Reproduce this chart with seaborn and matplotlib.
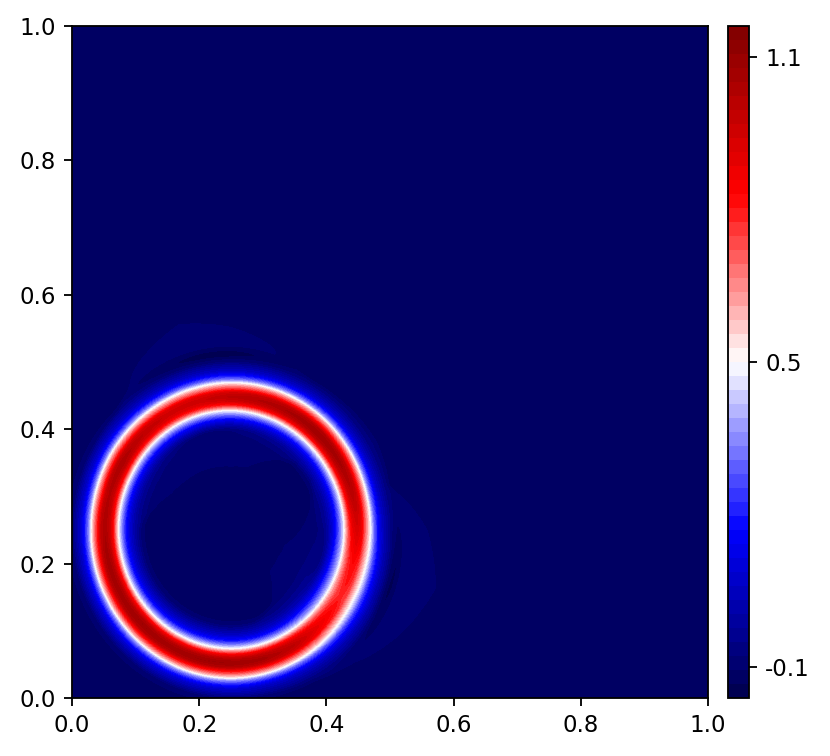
"""
Level-set style field: a thin ring around (0.25, 0.25) on the unit square,
filled contours with a seismic colorbar. All profiles read off the picture.
"""
import matplotlib
matplotlib.use("Agg")
import matplotlib.pyplot as plt
import numpy as np
import seaborn as sns

sns.set_style("ticks", {"axes.edgecolor": "black", "text.color": "black",
                        "xtick.color": "black", "ytick.color": "black",
                        "axes.grid": False})
plt.rcParams["font.family"] = ["DejaVu Sans"]
plt.rcParams["axes.unicode_minus"] = False

DPI = 165
CENTER = (0.25, 0.25)
RING_R0 = 0.198
BACKGROUND = -0.12

# radial cross-section of the ring, fraction of crest height above background
RING_R = [0, .13, .14, .15, .158, .166, .172, .178, .182, .186, .192, .198, .204,
          .2086, .214, .219, .2235, .2295, .236, .243, .25, .258, 1.5]
RING_V = [0, 0, .02, .07, .14, .248, .38, .53, .67, .81, .95, 1, .95,
          .81, .67, .53, .38, .248, .14, .08, .03, .01, 0]

# per-azimuth readings, every 15 degrees from the +x axis, counter-clockwise
THETA = list(range(0, 360, 15))
CREST = [.9, .98, 1.03, 1.05, 1.03, 1.0, .97, .93, .93, .97, 1.02, 1.0,
         1.02, 1.04, 1.04, 1.05, 1.04, 1.05, 1.05, 1.03, .97, .85, .76, .8]
SPREAD = [1.05, 1, 1, 1, 1, 1, 1, 1, 1, 1, 1, 1,
          1, 1, 1, 1, 1, 1, 1, 1, 1.05, 1.15, 1.22, 1.15]
HALO_IN = [.105, .125, .142, .138, .115, .092, .09, .092, .095, .098, .104, .12,
           .14, .14, .141, .142, .141, .141, .142, .14, .123, .082, .08, .083]
HALO_OUT = [.31, .26, .265, .262, .26, .28, .303, .318, .29, .255, .25, .25,
            .25, .25, .25, .25, .25, .25, .25, .255, .262, .28, .31, .335]
HALO_RISE = 0.03

# undershoot patches next to the ring
DIP_THETA = [95, 105, -18, -20]
DIP_SPREAD = [30, 35, 20, 22]
DIP_R = [.262, .15, .148, .262]
DIP_WIDTH = [.012, .01, .01, .012]
DIP_DEPTH = [-.065, -.065, -.065, -.065]

LEVELS = np.linspace(-0.16, 1.16, 49)
CBAR_TICKS = [-0.1, 0.5, 1.1]
AXIS_TICKS = [0.0, 0.2, 0.4, 0.6, 0.8, 1.0]


def build_field():
    xs = np.linspace(0, 1, 800)
    X, Y = np.meshgrid(xs, xs)
    r = np.hypot(X - CENTER[0], Y - CENTER[1])
    th = np.degrees(np.arctan2(Y - CENTER[1], X - CENTER[0])) % 360

    crest = np.interp(th, THETA, CREST, period=360)
    spread = np.interp(th, THETA, SPREAD, period=360)
    inner = np.interp(th, THETA, HALO_IN, period=360)
    outer = np.interp(th, THETA, HALO_OUT, period=360)

    rs = RING_R0 + (r - RING_R0) / spread
    z = BACKGROUND + np.interp(rs, RING_R, RING_V) * (crest - BACKGROUND)
    z += HALO_RISE * np.clip((r - inner) / 0.01, 0, 1) * np.clip((outer - r) / 0.01, 0, 1)
    for t0, dt, r0, dr, a in zip(DIP_THETA, DIP_SPREAD, DIP_R, DIP_WIDTH, DIP_DEPTH):
        d = (th - t0 + 180) % 360 - 180
        z += a * np.exp(-(d / dt) ** 2 - ((r - r0) / dr) ** 2)
    return xs, z


xs, field = build_field()
cmap = sns.color_palette("seismic", as_cmap=True)

fig = plt.figure(figsize=(830 / DPI, 756 / DPI), dpi=DPI)
ax = fig.add_axes([72 / 830, 1 - 698 / 756, 636 / 830, 672 / 756])
cax = fig.add_axes([728 / 830, 1 - 698 / 756, 21 / 830, 672 / 756])

cs = ax.contourf(xs, xs, field, levels=LEVELS, cmap=cmap)
ax.set_xlim(0, 1)
ax.set_ylim(0, 1)
ax.set_xticks(AXIS_TICKS)
ax.set_yticks(AXIS_TICKS)

cb = fig.colorbar(cs, cax=cax, ticks=CBAR_TICKS)
cb.ax.set_yticklabels([str(t) for t in CBAR_TICKS])

fig.savefig("out.png", dpi=DPI)
plt.close(fig)
